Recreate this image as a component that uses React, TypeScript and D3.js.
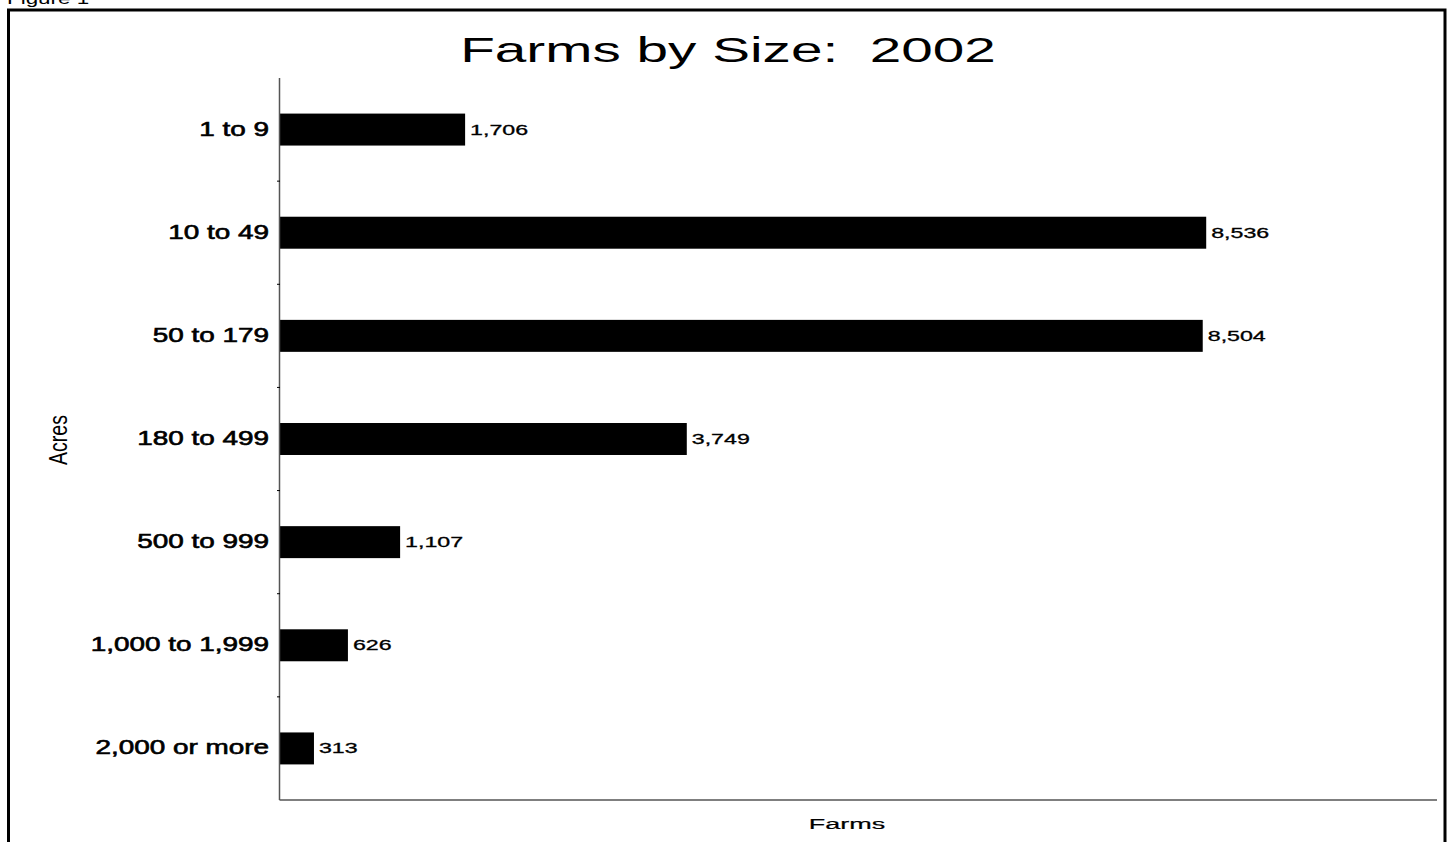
import React from "react";
import * as d3 from "d3";

const categories = [
  "1 to 9",
  "10 to 49",
  "50 to 179",
  "180 to 499",
  "500 to 999",
  "1,000 to 1,999",
  "2,000 or more",
];
const farms = [1706, 8536, 8504, 3749, 1107, 626, 313];
const xMax = 10663;

const W = 1450;
const H = 842;
const margin = { top: 78, right: 13, bottom: 42, left: 280 };
const font = "'Liberation Sans', Arial, Helvetica, sans-serif";

export default function App() {
  const x = d3.scaleLinear().domain([0, xMax]).range([margin.left, W - margin.right]);
  const y = d3
    .scaleBand<string>()
    .domain(categories)
    .range([margin.top, H - margin.bottom])
    .paddingInner(0.69)
    .paddingOuter(0.345);
  const step = y.step();
  const fmt = d3.format(",");
  const axisBottom = H - margin.bottom;

  // category boundaries, used for the small ticks on the left axis
  const boundaries = categories.slice(1).map((c) => (y(c) as number) - (step - y.bandwidth()) / 2);

  return (
    <svg
      width={W}
      height={H}
      style={{ position: "absolute", left: 0, top: 0, background: "#fff" }}
      fontFamily={font}
    >
      {/* figure caption, cut off at top like the original */}
      <text transform="translate(7,4) scale(1.4,1)" fontSize={16} fill="#000">
        Figure 1
      </text>

      {/* outer frame, open at bottom */}
      <path d={`M8.5,${H + 5} V10 H1445 V${H + 5}`} fill="none" stroke="#000" strokeWidth={3} />

      {/* title */}
      <text
        transform={`translate(728,62) scale(1.62,1)`}
        textAnchor="middle"
        fontSize={35}
        fill="#000"
        style={{ whiteSpace: "pre" }}
      >
        {"Farms by Size:  2002"}
      </text>

      {/* bars */}
      {categories.map((c, i) => (
        <rect
          key={c}
          x={x(0)}
          y={y(c)}
          width={x(farms[i]) - x(0)}
          height={y.bandwidth()}
          fill="#000"
        />
      ))}

      {/* value labels */}
      {categories.map((c, i) => (
        <text
          key={c}
          transform={`translate(${x(farms[i]) + 5},${(y(c) as number) + y.bandwidth() / 2 + 5}) scale(1.6,1)`}
          fontSize={14.5}
          fill="#000"
          stroke="#000"
          strokeWidth={0.3}
        >
          {fmt(farms[i])}
        </text>
      ))}

      {/* category labels */}
      {categories.map((c) => (
        <text
          key={c}
          transform={`translate(269,${(y(c) as number) + y.bandwidth() / 2 + 6}) scale(1.43,1)`}
          textAnchor="end"
          fontSize={19.5}
          fill="#000"
          stroke="#000"
          strokeWidth={0.6}
        >
          {c}
        </text>
      ))}

      {/* axes */}
      <line x1={x(0) - 0.5} x2={x(0) - 0.5} y1={margin.top} y2={axisBottom} stroke="#555" strokeWidth={1.5} />
      <line x1={x(0) - 0.5} x2={W - margin.right} y1={axisBottom} y2={axisBottom} stroke="#555" strokeWidth={1.5} />
      {boundaries.map((b, i) => (
        <line key={i} x1={x(0) - 3} x2={x(0)} y1={b} y2={b} stroke="#000" strokeWidth={1} />
      ))}

      {/* axis titles */}
      <text
        transform="translate(847,829) scale(1.8,1)"
        textAnchor="middle"
        fontSize={15}
        fill="#000"
        stroke="#000"
        strokeWidth={0.2}
      >
        Farms
      </text>
      <text
        transform="translate(67,440) scale(1.3,1) rotate(-90)"
        textAnchor="middle"
        fontSize={19.5}
        fill="#000"
      >
        Acres
      </text>
    </svg>
  );
}
